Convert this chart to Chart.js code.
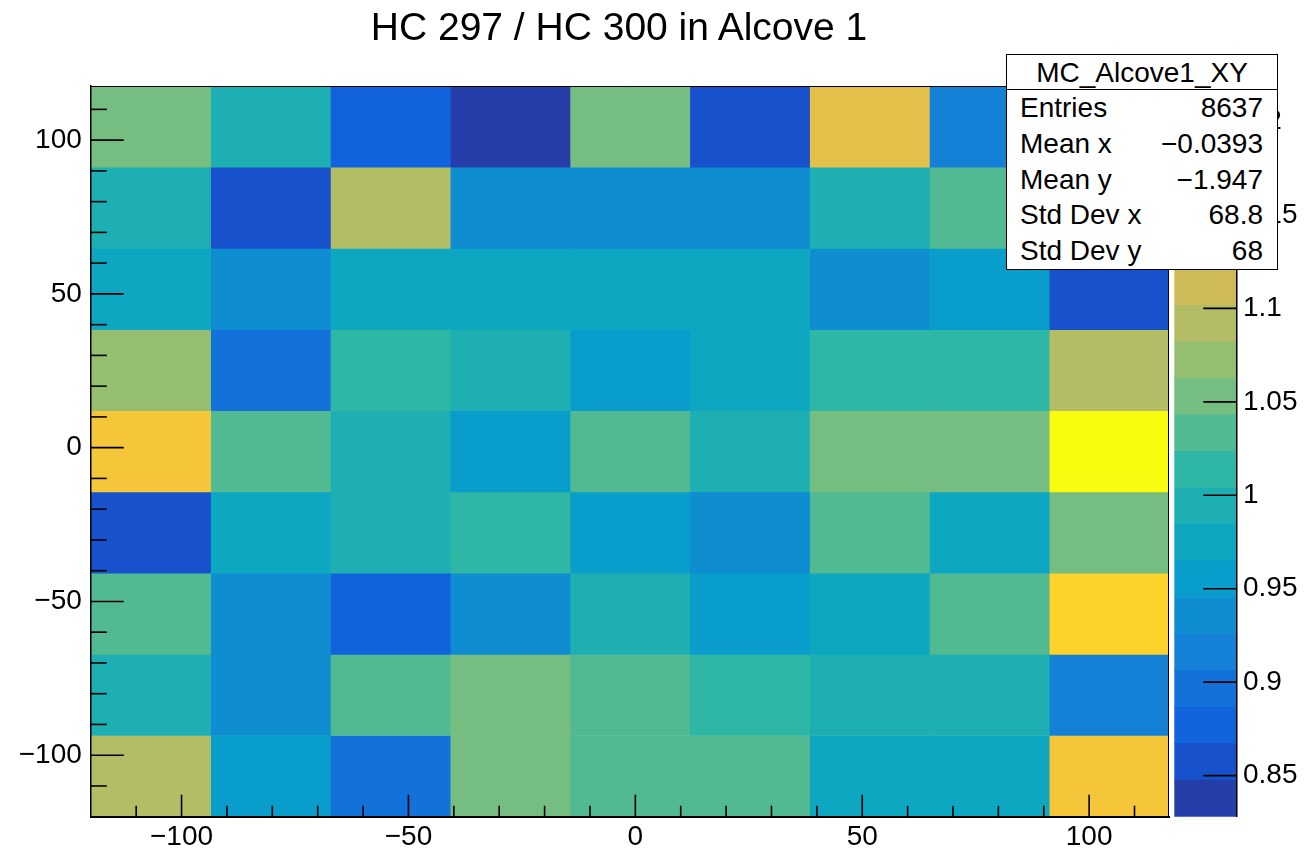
<!DOCTYPE html><html lang="en"><meta charset="utf-8">
<title>HC 297 / HC 300 in Alcove 1</title>
<script src="https://cdn.jsdelivr.net/npm/chart.js@4.4.1"></script>

<style>
*{box-sizing:border-box}
body{margin:0;background:#fff;font-family:"Liberation Sans",Arial,sans-serif}
#wrap{position:relative;width:1306px;height:853px;overflow:hidden;background:#fff}
canvas{position:absolute;top:0}
#main{left:0}
#zbar{left:1160px}
#title{position:absolute;left:0;top:6.5px;width:1238px;text-align:center;font-size:39px;line-height:39px;color:#000}
#stats{position:absolute;left:1006px;top:54px;width:272px;border:1.5px solid #000;background:#fff;font-size:28px;color:#000}
#stats .h{height:35px;line-height:35px;text-align:center;border-bottom:1.5px solid #000}
#stats .r{display:flex;justify-content:space-between;height:35.8px;line-height:35.8px;padding:0 14px 0 13px}
</style>

<body>
<div id="wrap">
  <canvas id="main" width="1306" height="853"></canvas>
  <canvas id="zbar" width="146" height="853"></canvas>
  <div id="title">HC 297 / HC 300 in Alcove 1</div>
  <div id="stats">
    <div class="h">MC_Alcove1_XY</div>
    <div class="r"><span>Entries</span><span>8637</span></div>
    <div class="r"><span>Mean x</span><span>&minus;0.0393</span></div>
    <div class="r"><span>Mean y</span><span>&minus;1.947</span></div>
    <div class="r"><span>Std Dev x</span><span>68.8</span></div>
    <div class="r"><span>Std Dev y</span><span>68</span></div>
  </div>
</div>

<script>
// bin edges (same binning on both axes)
const xEdges = [-120,-93.6,-67.2,-40.8,-14.4,12,38.4,64.8,91.2,117.6];
const yEdges = [-120,-93.6,-67.2,-40.8,-14.4,12,38.4,64.8,91.2,117.6];
const xTicks = [-100,-50,0,50,100];
const yTicks = [-100,-50,0,50,100];
const zTicks = [0.85,0.9,0.95,1,1.05,1.1,1.15,1.2];

// HC297/HC300 ratio per bin, one array per y row (top row first), x bins left to right
const rowTop1 = [1.051,0.992,0.874,0.828,1.055,0.858,1.133,0.913,0.990];
const rowTop2 = [0.996,0.855,1.090,0.937,0.933,0.936,0.991,1.031,1.020];
const rowTop3 = [0.972,0.938,0.976,0.973,0.978,0.971,0.934,0.952,0.859];
const rowTop4 = [1.071,0.894,1.012,0.996,0.957,0.973,1.015,1.011,1.093];
const rowMid  = [1.152,1.034,0.993,0.953,1.036,0.995,1.054,1.050,1.219];
const rowBot4 = [0.856,0.974,0.997,1.013,0.956,0.937,1.032,0.977,1.052];
const rowBot3 = [1.035,0.936,0.876,0.934,0.992,0.954,0.975,1.034,1.171];
const rowBot2 = [0.995,0.938,1.033,1.053,1.031,1.015,0.994,0.993,0.917];
const rowBot1 = [1.091,0.956,0.897,1.054,1.033,1.035,0.973,0.976,1.149];
const rows = [rowTop1,rowTop2,rowTop3,rowTop4,rowMid,rowBot4,rowBot3,rowBot2,rowBot1];

/* kBird palette, 20 contour levels like ROOT COLZ */
const NB = 20;
const bStop = [0,.125,.25,.375,.5,.625,.75,.875,1];
const bR = [.2082,.0592,.0780,.0232,.1802,.5301,.8186,.9956,.9764];
const bG = [.1664,.3599,.5041,.6419,.7178,.7492,.7328,.7862,.9832];
const bB = [.5293,.8684,.8385,.7914,.6425,.4662,.3499,.1968,.0539];
function bird(f){
  let i = 0; while(i < bStop.length-2 && f > bStop[i+1]) i++;
  const t = (f-bStop[i])/(bStop[i+1]-bStop[i]);
  const c = a => Math.round(255*(a[i]+(a[i+1]-a[i])*t));
  return `rgb(${c(bR)},${c(bG)},${c(bB)})`;
}
const bandColors = Array.from({length:NB},(_,k)=>bird(Math.min(1,(k+0.99)/NB)));

const allZ = rows.flat();
const zMin = Math.min(...allZ), zMax = Math.max(...allZ);
function colorOf(v){
  let k = Math.floor((v-zMin)/(zMax-zMin)*NB);
  return bandColors[Math.max(0,Math.min(NB-1,k))];
}

const FONT = {family:'"Liberation Sans", Arial, sans-serif', size:28};
const fmt = v => String(+(+v).toFixed(2)).replace('-','\u2212');

// ROOT-style ticks pointing into the frame
function rootTicks(specs, frame){
  return {id:'rootTicks', afterDatasetsDraw(chart){
    const ctx = chart.ctx, a = chart.chartArea;
    ctx.save();
    ctx.strokeStyle = '#000'; ctx.lineWidth = 1.6;
    if(frame){
      ctx.lineWidth = 1;
      ctx.beginPath();
      ctx.moveTo(a.left, a.top+0.5); ctx.lineTo(a.right-0.5, a.top+0.5); ctx.lineTo(a.right-0.5, a.bottom);
      ctx.stroke();
      ctx.lineWidth = 1.6;
    }
    specs.forEach(s=>{
      const sc = chart.scales[s.id];
      for(let v = s.from; v <= sc.max + 1e-9; v = +(v + s.step).toFixed(6)){
        if(v <= sc.min + 1e-9) continue;
        const len = s.major.includes(v) ? s.long : s.short;
        const p = sc.getPixelForValue(v);
        ctx.beginPath();
        if(sc.isHorizontal()){ ctx.moveTo(p,a.bottom); ctx.lineTo(p,a.bottom-len); }
        else if(sc.position === 'left'){ ctx.moveTo(a.left,p); ctx.lineTo(a.left+len,p); }
        else { ctx.moveTo(a.right,p); ctx.lineTo(a.right-len,p); }
        ctx.stroke();
      }
    });
    ctx.restore();
  }};
}

/* main 2D histogram: one floating-bar dataset per x bin column */
const yCenters = yEdges.slice(0,-1).map((y,i)=>(y+yEdges[i+1])/2);
const rowsBottomUp = rows.slice().reverse();
const cols = xEdges.slice(0,-1).map((x0,c)=>({
  data: yCenters.map(yc=>({x:[x0,xEdges[c+1]], y:yc})),
  backgroundColor: rowsBottomUp.map(r=>colorOf(r[c])),
  borderWidth:0, barPercentage:1, categoryPercentage:1, grouped:false
}));

new Chart(document.getElementById('main'),{
  type:'bar',
  data:{datasets:cols},
  options:{
    indexAxis:'y',
    animation:false, responsive:false, events:[],
    layout:{padding:{left:0,top:86,right:137,bottom:0}},
    plugins:{legend:{display:false},tooltip:{enabled:false},title:{display:false}},
    scales:{
      x:{type:'linear',min:xEdges[0],max:xEdges[9],offset:false,
         grid:{display:false,drawTicks:false},
         border:{display:true,color:'#000',width:2,z:1},
         ticks:{font:FONT,color:'#000',padding:4,maxRotation:0,callback:fmt},
         afterBuildTicks:s=>{s.ticks = xTicks.map(v=>({value:v}));},
         afterFit:s=>{s.height = 36.3;}},
      y:{type:'linear',min:yEdges[0],max:yEdges[9],offset:false,
         grid:{display:false,drawTicks:false},
         border:{display:true,color:'#000',width:1.5,z:1},
         ticks:{font:FONT,color:'#000',padding:9,callback:fmt},
         afterBuildTicks:s=>{s.ticks = yTicks.map(v=>({value:v}));},
         afterFit:s=>{s.width = 90.8;}}
    }
  },
  plugins:[rootTicks([
    {id:'x',from:-120,step:10,major:xTicks,long:22,short:11},
    {id:'y',from:-120,step:10,major:yTicks,long:33,short:16}
  ], true)]
});

/* colour scale */
const bandEdges = Array.from({length:NB+1},(_,k)=>zMin+k*(zMax-zMin)/NB);
new Chart(document.getElementById('zbar'),{
  type:'bar',
  data:{labels:['z'],datasets:bandColors.map((c,k)=>({
    data:[[bandEdges[k],bandEdges[k+1]]], backgroundColor:c,
    borderWidth:0, barPercentage:1, categoryPercentage:1, grouped:false
  }))},
  options:{
    animation:false, responsive:false, events:[],
    layout:{padding:{left:14.3,top:86,right:0,bottom:36.3}},
    plugins:{legend:{display:false},tooltip:{enabled:false}},
    scales:{
      x:{display:false},
      y:{type:'linear',position:'right',min:zMin,max:zMax,
         grid:{display:false,drawTicks:false},
         border:{display:true,color:'#000',width:1.5,z:1},
         ticks:{font:FONT,color:'#000',padding:6,callback:fmt},
         afterBuildTicks:s=>{s.ticks = zTicks.map(v=>({value:v}));},
         afterFit:s=>{s.width = 69;}}
    }
  },
  plugins:[rootTicks([{id:'y',from:0.85,step:0.05,major:zTicks,long:33.7,short:0}], false)]
});
</script>
</body></html>
